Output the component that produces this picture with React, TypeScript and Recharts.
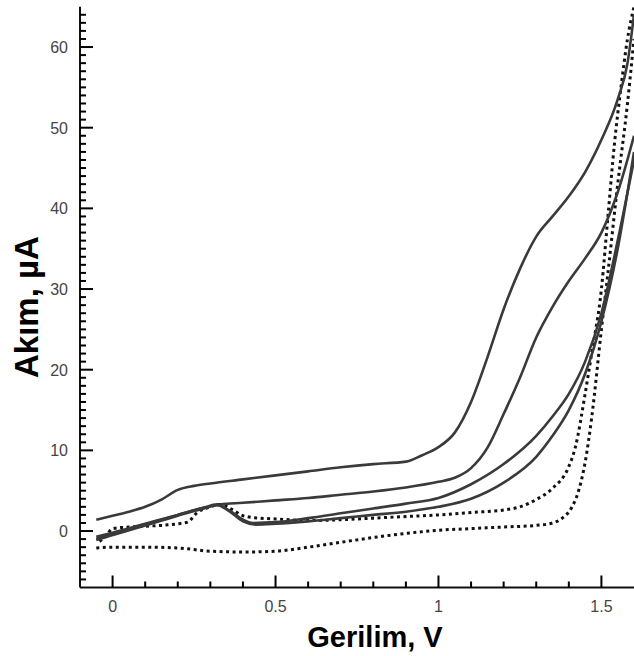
import React from 'react';
import { LineChart, Line, XAxis, YAxis, Label } from 'recharts';

// Solid branch A (top)
const aX = [-0.05, 0, 0.05, 0.1, 0.15, 0.2, 0.25, 0.3, 0.4, 0.5, 0.6, 0.7, 0.8, 0.9, 0.95, 1.0, 1.05, 1.1, 1.15, 1.2, 1.25, 1.3, 1.35, 1.4, 1.45, 1.5, 1.55, 1.58, 1.6];
const aY = [1.4, 1.9, 2.4, 3.0, 3.9, 5.1, 5.6, 5.9, 6.4, 6.9, 7.4, 7.9, 8.3, 8.6, 9.4, 10.4, 12.2, 16, 21.5, 27.5, 32.5, 36.5, 39, 41.5, 44.5, 48.5, 53.5, 58, 64];
// Solid branch B
const bX = [-0.05, 0, 0.1, 0.2, 0.28, 0.33, 0.4, 0.5, 0.6, 0.7, 0.8, 0.9, 1.0, 1.05, 1.1, 1.15, 1.2, 1.25, 1.3, 1.35, 1.4, 1.45, 1.5, 1.55, 1.6];
const bY = [-0.7, -0.2, 0.9, 2.0, 2.9, 3.3, 3.5, 3.8, 4.1, 4.5, 4.9, 5.4, 6.1, 6.6, 7.8, 10.3, 14.5, 19, 24, 27.8, 31, 33.8, 37, 42, 49];
// Solid branch C
const cX = [-0.05, 0, 0.1, 0.2, 0.28, 0.32, 0.36, 0.4, 0.43, 0.5, 0.6, 0.7, 0.8, 0.9, 1.0, 1.1, 1.2, 1.3, 1.35, 1.4, 1.45, 1.5, 1.55, 1.6];
const cY = [-1.0, -0.4, 0.8, 2.0, 2.9, 3.3, 2.5, 1.4, 1.0, 1.1, 1.6, 2.2, 2.8, 3.4, 4.1, 5.8, 8.3, 11.8, 14.2, 17, 21, 27, 36, 46];
// Solid branch D
const dX = [-0.05, 0, 0.1, 0.2, 0.28, 0.32, 0.36, 0.4, 0.44, 0.5, 0.6, 0.7, 0.8, 0.9, 1.0, 1.1, 1.2, 1.3, 1.35, 1.4, 1.45, 1.5, 1.55, 1.6];
const dY = [-1.1, -0.5, 0.7, 1.9, 2.8, 3.2, 2.4, 1.2, 0.8, 0.9, 1.2, 1.6, 2.0, 2.4, 3.0, 4.0, 6.0, 9.2, 11.8, 15, 19.5, 26, 35, 47];
// Dotted branch E (upper)
const eX = [-0.04, -0.02, 0, 0.05, 0.1, 0.15, 0.2, 0.23, 0.26, 0.3, 0.33, 0.37, 0.4, 0.45, 0.5, 0.6, 0.7, 0.8, 0.9, 1.0, 1.1, 1.2, 1.25, 1.3, 1.35, 1.4, 1.42, 1.45, 1.47, 1.5, 1.52, 1.54, 1.56, 1.58, 1.6];
const eY = [-1.3, -0.6, 0.3, 0.5, 0.6, 0.7, 0.9, 1.1, 2.3, 3.0, 3.3, 2.6, 1.9, 1.6, 1.5, 1.3, 1.4, 1.6, 1.8, 2.0, 2.3, 2.6, 3.0, 3.9, 5.3, 8.0, 10.4, 17, 22, 30, 39, 48, 55, 61, 65];
// Dotted branch F (lower)
const fX = [-0.05, 0, 0.1, 0.2, 0.3, 0.4, 0.5, 0.6, 0.7, 0.8, 0.9, 1.0, 1.1, 1.2, 1.3, 1.35, 1.38, 1.41, 1.43, 1.45, 1.47, 1.5, 1.52, 1.55, 1.58, 1.6];
const fY = [-2.1, -2.0, -2.0, -2.1, -2.5, -2.6, -2.5, -2.0, -1.4, -0.8, -0.3, 0.1, 0.3, 0.5, 0.7, 1.0, 1.6, 3.0, 5.0, 8.5, 14, 25, 32, 43, 53, 61];

const X_MAJOR = [0, 0.5, 1, 1.5];
const X_MAJOR_LABELS = ['0', '0.5', '1', '1.5'];
const Y_MAJOR = [0, 10, 20, 30, 40, 50, 60];
const Y_MAJOR_LABELS = ['0', '10', '20', '30', '40', '50', '60'];
const xTicks = [0, 0.1, 0.2, 0.3, 0.4, 0.5, 0.6, 0.7, 0.8, 0.9, 1.0, 1.1, 1.2, 1.3, 1.4, 1.5];
const yTicks = [-6, -5, -4, -3, -2, -1, 0, 1, 2, 3, 4, 5, 6, 7, 8, 9, 10, 11, 12, 13, 14, 15, 16, 17, 18, 19, 20, 21, 22, 23, 24, 25, 26, 27, 28, 29, 30, 31, 32, 33, 34, 35, 36, 37, 38, 39, 40, 41, 42, 43, 44, 45, 46, 47, 48, 49, 50, 51, 52, 53, 54, 55, 56, 57, 58, 59, 60, 61, 62, 63, 64];

const toPts = (xs: number[], ys: number[]) => xs.map((x, i) => ({ x, y: ys[i] }));
const solids = [toPts(aX, aY), toPts(bX, bY), toPts(cX, cY), toPts(dX, dY)];
const dotted = [toPts(eX, eY), toPts(fX, fY)];

const TICK_FONT = 'Liberation Sans, Arial, sans-serif';

const XTick = (props: any) => {
  const { x, y, payload } = props;
  const v = payload.value;
  const mi = X_MAJOR.findIndex((m) => Math.abs(m - v) < 1e-6);
  const major = mi >= 0;
  return (
    <g>
      <line x1={x} x2={x} y1={y} y2={y - (major ? 12 : 6)} stroke="#000" strokeWidth={2} />
      {major && (
        <text x={x} y={y + 24} textAnchor="middle" fontSize={16} fill="#444" fontFamily={TICK_FONT}>
          {X_MAJOR_LABELS[mi]}
        </text>
      )}
    </g>
  );
};

const YTick = (props: any) => {
  const { x, y, payload } = props;
  const v = payload.value;
  const mi = Y_MAJOR.indexOf(v);
  const major = mi >= 0;
  return (
    <g>
      <line x1={x} x2={x + (major ? 13 : 6)} y1={y} y2={y} stroke="#000" strokeWidth={2} />
      {major && (
        <text x={x - 12} y={y + 6} textAnchor="end" fontSize={16} fill="#444" fontFamily={TICK_FONT}>
          {Y_MAJOR_LABELS[mi]}
        </text>
      )}
    </g>
  );
};

export default function App() {
  return (
    <div style={{ position: 'absolute', left: 0, top: 0, background: '#fff' }}>
      <LineChart width={634} height={656} margin={{ top: 6.7, right: 0, bottom: 38.5, left: 0 }}>
        <XAxis
          type="number"
          dataKey="x"
          domain={[-0.1, 1.6]}
          allowDataOverflow
          ticks={xTicks}
          interval={0}
          minTickGap={0}
          tickSize={0}
          tickMargin={0}
          tickLine={false}
          tick={<XTick />}
          height={30}
          axisLine={{ stroke: '#111', strokeWidth: 2 }}
        >
          <Label
            content={(p: any) => {
              const vb = p.viewBox;
              return (
                <text
                  x={vb.x + vb.width / 2 + 18}
                  y={vb.y + 59}
                  textAnchor="middle"
                  fontSize={29}
                  fontWeight="bold"
                  fill="#000"
                  fontFamily={TICK_FONT}
                >
                  Gerilim, V
                </text>
              );
            }}
          />
        </XAxis>
        <YAxis
          type="number"
          dataKey="y"
          domain={[-7, 65]}
          allowDataOverflow
          ticks={yTicks}
          interval={0}
          minTickGap={0}
          tickSize={0}
          tickMargin={0}
          tickLine={false}
          tick={<YTick />}
          width={80}
          axisLine={{ stroke: '#111', strokeWidth: 2 }}
        >
          <Label
            content={(p: any) => {
              const vb = p.viewBox;
              const cx = vb.x + 27;
              const cy = vb.y + vb.height / 2 + 10;
              return (
                <text
                  x={cx}
                  y={cy}
                  transform={`rotate(-90, ${cx}, ${cy})`}
                  textAnchor="middle"
                  dominantBaseline="central"
                  fontSize={33}
                  fontWeight="bold"
                  fill="#000"
                  fontFamily={TICK_FONT}
                >
                  Akım, µA
                </text>
              );
            }}
          />
        </YAxis>
        {dotted.map((d, i) => (
          <Line
            key={'d' + i}
            data={d}
            dataKey="y"
            type="monotone"
            dot={false}
            stroke="#111"
            strokeWidth={3}
            strokeDasharray="3 3.5"
            isAnimationActive={false}
          />
        ))}
        {solids.map((d, i) => (
          <Line
            key={'s' + i}
            data={d}
            dataKey="y"
            type="monotone"
            dot={false}
            stroke="#3a3a3a"
            strokeWidth={2.6}
            isAnimationActive={false}
          />
        ))}
      </LineChart>
    </div>
  );
}
